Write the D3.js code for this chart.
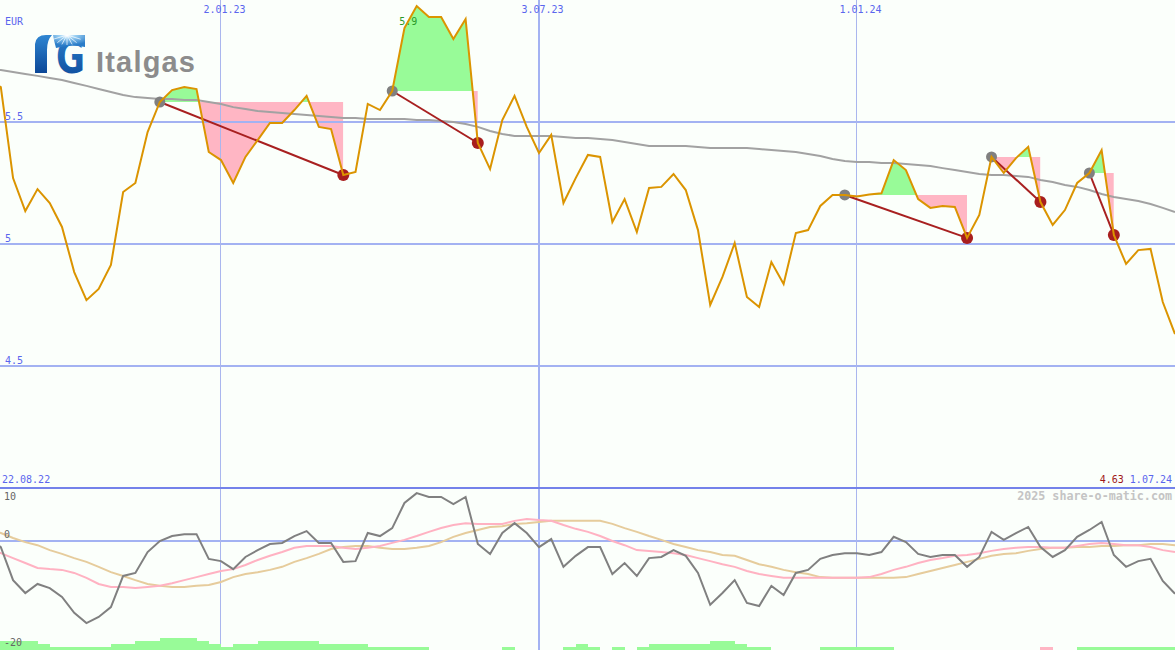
<!DOCTYPE html>
<html><head><meta charset="utf-8">
<script src="https://cdn.jsdelivr.net/npm/d3@7"></script>
<style>html,body{margin:0;padding:0;background:#fbfffb;overflow:hidden}svg{display:block}</style>
</head><body>
<svg id="c" width="1175" height="650"></svg>
<script>
// ---------- data ----------
const startDate = "2022-08-22", endDate = "2024-07-01";
const currency = "EUR";
const price = [
5.672,5.643,5.270,5.135,5.225,5.168,5.070,4.885,4.770,4.816,
4.914,5.213,5.250,5.459,5.582,5.631,5.643,5.635,5.377,5.344,
5.250,5.357,5.426,5.496,5.496,5.549,5.607,5.480,5.471,5.283,
5.295,5.574,5.549,5.627,5.885,5.975,5.930,5.930,5.840,5.922,
5.414,5.307,5.508,5.607,5.480,5.373,5.447,5.168,5.270,5.365,
5.357,5.090,5.184,5.049,5.230,5.234,5.287,5.221,5.057,4.750,
4.865,5.004,4.783,4.742,4.926,4.836,5.045,5.057,5.156,5.201,
5.201,5.195,5.203,5.208,5.344,5.303,5.184,5.148,5.156,5.152,
5.025,5.119,5.357,5.291,5.352,5.398,5.172,5.078,5.139,5.250,
5.291,5.385,5.037,4.918,4.975,4.980,4.762,4.631];
const movingAvg = [
5.721,5.713,5.705,5.697,5.689,5.680,5.672,5.660,5.648,5.635,
5.623,5.611,5.602,5.598,5.594,5.594,5.590,5.590,5.582,5.574,
5.561,5.553,5.545,5.541,5.537,5.533,5.529,5.525,5.520,5.516,
5.516,5.512,5.512,5.512,5.512,5.508,5.508,5.504,5.500,5.492,
5.480,5.463,5.451,5.443,5.443,5.443,5.443,5.439,5.434,5.434,
5.430,5.426,5.418,5.410,5.402,5.402,5.402,5.402,5.398,5.393,
5.393,5.393,5.393,5.389,5.385,5.381,5.377,5.369,5.361,5.348,
5.340,5.336,5.336,5.332,5.332,5.328,5.324,5.320,5.311,5.303,
5.295,5.287,5.283,5.283,5.279,5.275,5.262,5.254,5.242,5.234,
5.221,5.205,5.193,5.184,5.176,5.164,5.148,5.131];
const momentum = [
0.5,-1.6,-10.3,-13.7,-11.3,-12.4,-14.7,-18.9,-21.6,-20.0,
-17.4,-9.2,-8.4,-2.9,0,1.3,1.8,1.8,-4.7,-5.3,
-7.4,-4.2,-2.4,-0.8,-0.5,1.3,2.6,-0.5,-0.5,-5.5,
-5.3,2.1,1.3,3.4,10.0,12.6,11.6,11.6,9.7,11.6,
-0.8,-3.4,2.1,4.7,2.1,-1.6,0.5,-6.8,-3.9,-1.6,
-1.6,-8.7,-5.8,-9.2,-4.5,-4.2,-2.4,-3.9,-8.4,-16.8,
-13.7,-10.3,-16.3,-17.1,-11.8,-14.2,-8.4,-7.6,-4.7,-3.7,
-3.2,-3.2,-3.7,-2.9,1.1,-0.3,-3.4,-4.2,-3.7,-3.7,
-6.8,-4.2,2.4,0.3,2.1,3.7,-1.6,-4.2,-2.4,1.1,
2.9,5.0,-3.7,-6.8,-5.3,-4.7,-10.5,-13.9];
const oscPink = [
-2.1,-3.2,-4.5,-5.8,-7.1,-7.4,-7.6,-8.4,-9.7,-11.3,
-12.1,-12.1,-12.4,-12.1,-11.8,-11.1,-10.3,-9.5,-8.7,-7.9,
-7.4,-6.3,-5.0,-3.9,-2.9,-1.8,-1.3,-1.3,-1.3,-1.8,
-2.1,-1.8,-1.3,-0.5,0.3,1.3,2.4,3.4,4.2,4.7,
4.5,4.5,4.5,5.3,5.8,5.5,5.3,4.2,3.2,2.4,
1.3,0,-1.1,-2.4,-2.6,-2.9,-3.2,-3.7,-4.5,-5.3,
-6.1,-6.8,-7.9,-8.7,-9.2,-9.7,-9.7,-9.7,-9.7,-9.7,
-9.7,-9.7,-9.5,-8.7,-7.6,-6.8,-5.8,-5.0,-4.5,-3.9,
-3.7,-3.2,-2.6,-2.1,-1.8,-1.6,-1.6,-1.8,-1.8,-1.3,
-0.8,-0.5,-0.8,-1.1,-1.1,-1.6,-2.4,-2.9];
const oscTan = [
3.2,2.1,0.8,-0.3,-1.1,-2.4,-3.4,-4.5,-5.5,-6.8,
-8.2,-9.2,-10.3,-11.3,-11.8,-12.1,-12.1,-11.8,-11.6,-10.8,
-9.5,-8.7,-8.2,-7.6,-6.8,-5.5,-4.5,-3.4,-2.1,-1.6,
-1.3,-1.3,-1.8,-2.1,-2.1,-1.8,-1.3,-0.3,1.1,2.1,
2.9,3.7,3.9,4.5,4.7,5.0,5.3,5.3,5.3,5.3,
5.3,4.5,3.4,2.4,1.3,0.3,-0.8,-1.6,-2.4,-2.9,
-3.7,-3.9,-5.0,-6.1,-6.8,-7.6,-8.2,-8.7,-9.5,-9.7,
-9.7,-9.7,-9.7,-9.7,-9.7,-9.5,-8.7,-7.9,-7.1,-6.3,
-5.5,-4.7,-3.9,-3.4,-3.2,-2.6,-2.1,-1.8,-1.8,-1.6,
-1.6,-1.3,-1.3,-1.1,-1.1,-0.8,-0.8,-1.1];
// signal strength bars, one per week interval (positive = green, negative = pink)
const strength = [
3,3,3,3,2,1,1,1,1,1,
2,2,3,3,4,4,4,3,2,1,
2,2,3,3,3,3,3,2,2,2,
2,1,1,1,1,1,0,0,0,0,
0,0,1,0,0,0,0,1,2,1,
0,1,0,1,2,2,2,2,2,3,
3,2,1,1,0,0,0,0,1,1,
1,1,1,1,0,0,0,0,0,0,
0,0,0,0,0,0,-1,0,0,1,
1,1,1,1,1,1,1];
const signalStart = ["2022-11-28","2023-04-10","2023-12-25","2024-03-18","2024-05-13"];
const signalEnd   = ["2023-03-13","2023-05-29","2024-03-04","2024-04-15","2024-05-27"];
const priceTicks = [5.5, 5, 4.5];
const priceTickLabels = ["5.5", "5", "4.5"];
const oscTicks = [10, 0, -20];
const oscTickLabels = ["10", "0", "-20"];
const dateTicks = ["2023-01-02", "2023-07-03", "2024-01-01"];
const dateTickLabels = ["2.01.23", "3.07.23", "1.01.24"];
const startLabel = "22.08.22", endLabel = "1.07.24";
const maxLabel = "5.9";
const credit = "2025 share-o-matic.com";

// ---------- setup ----------
const W = 1175, H = 650, mainBottom = 488;
const parse = d3.timeParse("%Y-%m-%d");
const dates = d3.timeMonday.range(parse(startDate), d3.timeDay.offset(parse(endDate), 1));
const idx = s => dates.findIndex(d => +d === +parse(s));
const x = d3.scaleTime().domain([parse(startDate), parse(endDate)]).range([-11.4, W]);
const y = d3.scaleLinear().domain([4, 6]).range([mainBottom, 0]);
const oy = d3.scaleLinear().domain([0, 10]).range([541, 503]);
const hy = d3.scaleLinear().domain([0, 4]).range([H, H - 12]);
const mono = "'DejaVu Sans Mono', monospace";
const blue = "#5a66ee";

const svg = d3.select("#c");
const defs = svg.append("defs");
defs.append("clipPath").attr("id", "clipMain").append("rect").attr("x", 0).attr("y", 0).attr("width", W).attr("height", mainBottom);
defs.append("clipPath").attr("id", "clipOsc").append("rect").attr("x", 0).attr("y", mainBottom).attr("width", W).attr("height", H - mainBottom);

svg.append("rect").attr("width", W).attr("height", H).attr("fill", "#fbfffb");

// ---------- logo ----------
const rg = defs.append("radialGradient").attr("id", "sun").attr("cx", "45%").attr("cy", "0%").attr("r", "80%");
rg.append("stop").attr("offset", "0%").attr("stop-color", "#ffffff");
rg.append("stop").attr("offset", "30%").attr("stop-color", "#9fd3f4");
rg.append("stop").attr("offset", "100%").attr("stop-color", "#2a7cc8");
const lg = defs.append("linearGradient").attr("id", "igblue").attr("x1", 0).attr("y1", 0).attr("x2", 0).attr("y2", 1);
lg.append("stop").attr("offset", "0%").attr("stop-color", "#2f86d2");
lg.append("stop").attr("offset", "100%").attr("stop-color", "#0b4797");
const logo = svg.append("g");
logo.append("path").attr("d", "M35,73 L35,44 Q36,35 46,35 L52,35 Q47,40 47,50 L47,73 Z").attr("fill", "url(#igblue)");
logo.append("text").attr("x", 56).attr("y", 73).attr("font-family", "'DejaVu Sans', sans-serif").attr("font-weight", "bold")
  .attr("font-size", 47).attr("fill", "url(#igblue)").attr("textLength", 29).attr("lengthAdjust", "spacingAndGlyphs").text("G");
logo.append("path").attr("d", "M53,35 L85,35 L85,47 Q70,44 56,48 Q54,41 53,35 Z").attr("fill", "url(#sun)");
const rays = logo.append("g").attr("stroke", "#ffffff").attr("stroke-opacity", 0.7).attr("stroke-width", 1);
[-65, -40, -20, 0, 20, 40, 65].forEach(a => {
  const r = a * Math.PI / 180;
  rays.append("line").attr("x1", 67).attr("y1", 35).attr("x2", 67 + Math.sin(r) * 15).attr("y2", 35 + Math.cos(r) * 10);
});
logo.append("text").attr("x", 96).attr("y", 72).attr("font-family", "'Liberation Sans', Arial, sans-serif").attr("font-weight", "bold")
  .attr("font-size", 29).attr("fill", "#8c8c8c").attr("textLength", 99).attr("lengthAdjust", "spacing").text("Italgas");

// ---------- signal fills ----------
const fills = svg.append("g").attr("clip-path", "url(#clipMain)");
signalStart.forEach((s, j) => {
  const a = idx(s), b = idx(signalEnd[j]);
  const level = price[a];
  const pts = d3.range(a, b + 1);
  const area = d3.area().x(i => x(dates[i])).y0(y(level)).y1(i => y(price[i]));
  const gid = "cg" + j, pid = "cp" + j;
  defs.append("clipPath").attr("id", gid).append("rect")
    .attr("x", x(dates[a])).attr("y", 0).attr("width", x(dates[b]) - x(dates[a])).attr("height", y(level));
  defs.append("clipPath").attr("id", pid).append("rect")
    .attr("x", x(dates[a])).attr("y", y(level)).attr("width", x(dates[b]) - x(dates[a])).attr("height", mainBottom - y(level));
  fills.append("path").attr("d", area(pts)).attr("fill", "#98fb98").attr("clip-path", `url(#${gid})`);
  fills.append("path").attr("d", area(pts)).attr("fill", "#ffb6c4").attr("clip-path", `url(#${pid})`);
});

// ---------- grid ----------
const grid = svg.append("g").attr("shape-rendering", "crispEdges");
priceTicks.forEach(v => grid.append("line").attr("x1", 0).attr("x2", W).attr("y1", y(v)).attr("y2", y(v))
  .attr("stroke", "#a3b2f2").attr("stroke-width", 2));
grid.append("line").attr("x1", 0).attr("x2", W).attr("y1", oy(0)).attr("y2", oy(0)).attr("stroke", "#a3b2f2").attr("stroke-width", 2);
dateTicks.forEach((d, i) => grid.append("line").attr("x1", x(parse(d))).attr("x2", x(parse(d))).attr("y1", 0).attr("y2", H)
  .attr("stroke", i === 1 ? "#a3b2f2" : "#aab6ee").attr("stroke-width", i === 1 ? 2 : 1));
grid.append("line").attr("x1", 0).attr("x2", W).attr("y1", mainBottom - 0.5).attr("y2", mainBottom - 0.5)
  .attr("stroke", "#7482ea").attr("stroke-width", 2);

// ---------- main lines ----------
const main = svg.append("g").attr("clip-path", "url(#clipMain)");
const line = d3.line().x((d, i) => x(dates[i])).y(d => y(d));
main.append("path").attr("d", line(movingAvg)).attr("fill", "none").attr("stroke", "#a2a2a2").attr("stroke-width", 2);
signalStart.forEach((s, j) => {
  const a = idx(s), b = idx(signalEnd[j]);
  main.append("line").attr("x1", x(dates[a])).attr("y1", y(price[a])).attr("x2", x(dates[b])).attr("y2", y(price[b]))
    .attr("stroke", "#a82020").attr("stroke-width", 2);
  main.append("circle").attr("cx", x(dates[a])).attr("cy", y(price[a])).attr("r", 5.5).attr("fill", "#808080");
  main.append("circle").attr("cx", x(dates[b])).attr("cy", y(price[b])).attr("r", 6).attr("fill", "#a81e1e");
});
main.append("path").attr("d", line(price)).attr("fill", "none").attr("stroke", "#db9400").attr("stroke-width", 2)
  .attr("stroke-linejoin", "miter");

// ---------- oscillator panel ----------
const osc = svg.append("g").attr("clip-path", "url(#clipOsc)");
strength.forEach((v, i) => {
  if (!v) return;
  osc.append("rect").attr("x", x(dates[i])).attr("width", x(dates[i + 1]) - x(dates[i]))
    .attr("y", hy(Math.abs(v))).attr("height", H - hy(Math.abs(v)))
    .attr("fill", v > 0 ? "#98fb98" : "#ffb6c4").attr("shape-rendering", "crispEdges");
});
const oline = d3.line().x((d, i) => x(dates[i])).y(d => oy(d));
osc.append("path").attr("d", oline(oscTan)).attr("fill", "none").attr("stroke", "#e6cc9c").attr("stroke-width", 2);
osc.append("path").attr("d", oline(oscPink)).attr("fill", "none").attr("stroke", "#ffb2c2").attr("stroke-width", 2);
osc.append("path").attr("d", oline(momentum)).attr("fill", "none").attr("stroke", "#808080").attr("stroke-width", 2);

// ---------- texts ----------
const txt = svg.append("g").attr("font-family", mono).attr("font-size", 10);
txt.append("text").attr("x", 5).attr("y", 25).attr("fill", blue).text(currency);
priceTicks.forEach((v, i) => txt.append("text").attr("x", 5).attr("y", y(v) - 2.5).attr("fill", blue).text(priceTickLabels[i]));
dateTicks.forEach((d, i) => txt.append("text").attr("x", x(parse(d)) + 3.5).attr("y", 13).attr("text-anchor", "middle")
  .attr("fill", blue).text(dateTickLabels[i]));
txt.append("text").attr("x", 2).attr("y", 483).attr("fill", blue).text(startLabel);
const endT = txt.append("text").attr("x", 1172).attr("y", 483).attr("text-anchor", "end");
endT.append("tspan").attr("fill", "#a01818").text(d3.format(".2f")(price[price.length - 1]) + " ");
endT.append("tspan").attr("fill", blue).text(endLabel);
txt.append("text").attr("x", 1172).attr("y", 500).attr("text-anchor", "end").attr("font-weight", "bold").attr("font-size", 11.7)
  .attr("fill", "#c4c4c4").text(credit);
// oscillator tick labels: the lowest one sits at the panel's bottom edge
oscTicks.forEach((v, i) => txt.append("text").attr("x", 4)
  .attr("y", i === oscTicks.length - 1 ? H - 4 : oy(v) - 3).attr("fill", "#666").text(oscTickLabels[i]));
const iMax = d3.maxIndex(price);
txt.append("text").attr("x", x(dates[iMax]) - 17.5).attr("y", 25).attr("fill", "#2a9a2a").text(maxLabel);
</script>
</body></html>
